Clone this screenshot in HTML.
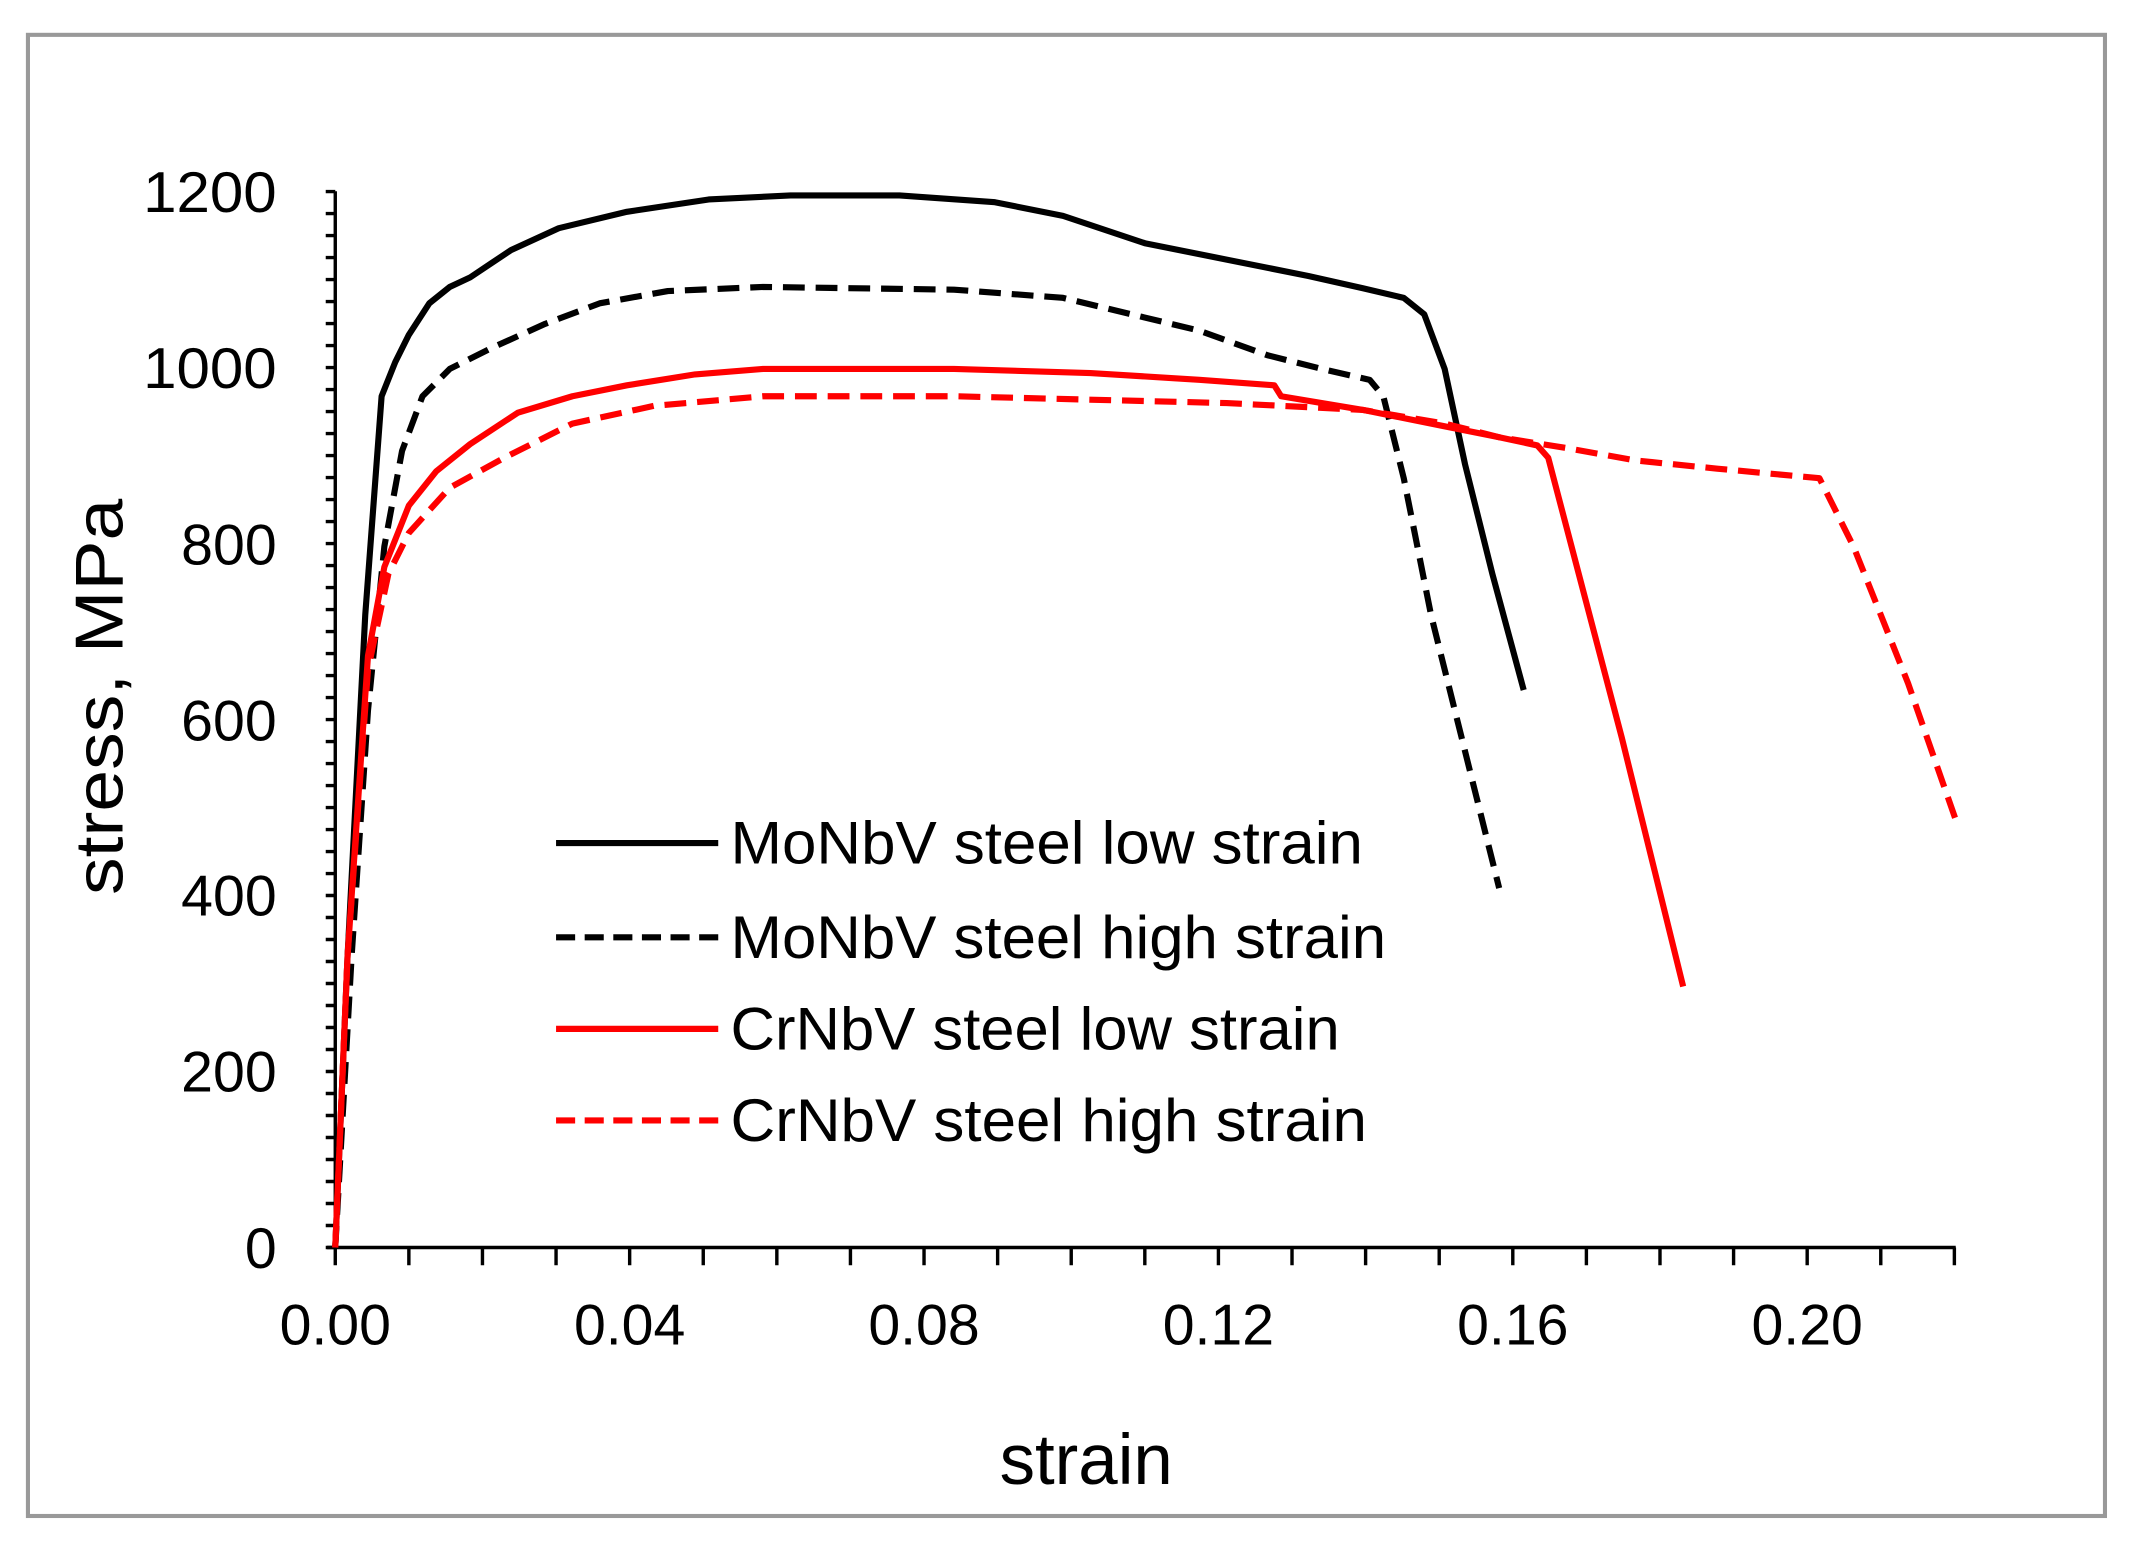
<!DOCTYPE html>
<html><head><meta charset="utf-8"><style>html,body{margin:0;padding:0;background:#fff}svg{display:block}</style></head>
<body>
<svg width="2137" height="1544" viewBox="0 0 1568 1130" preserveAspectRatio="none" xmlns="http://www.w3.org/2000/svg" font-family="'Liberation Sans', sans-serif">
<rect x="0" y="0" width="1568" height="1130" fill="#fff"/>
<rect x="20.5" y="25.5" width="1524" height="1084" fill="none" stroke="#999" stroke-width="3"/>
<g stroke="#000" stroke-width="2.5" fill="none">
<line x1="246" y1="140" x2="246" y2="913"/>
<line x1="240" y1="913" x2="1435" y2="913"/>
<path d="M239 913H246M239 896.9H246M239 880.8H246M239 864.7H246M239 848.6H246M239 832.5H246M239 816.4H246M239 800.3H246M239 784.2H246M239 768.1H246M239 752H246M239 735.9H246M239 719.8H246M239 703.7H246M239 687.6H246M239 671.5H246M239 655.4H246M239 639.3H246M239 623.2H246M239 607.1H246M239 591H246M239 574.9H246M239 558.8H246M239 542.7H246M239 526.6H246M239 510.5H246M239 494.4H246M239 478.3H246M239 462.2H246M239 446.1H246M239 430H246M239 413.9H246M239 397.8H246M239 381.7H246M239 365.6H246M239 349.5H246M239 333.4H246M239 317.3H246M239 301.2H246M239 285.1H246M239 269H246M239 252.9H246M239 236.8H246M239 220.7H246M239 204.6H246M239 188.5H246M239 172.4H246M239 156.3H246M239 140.2H246"/>
<path d="M246 913V926M300 913V926M354 913V926M408 913V926M462 913V926M516 913V926M570 913V926M624 913V926M678 913V926M732 913V926M786 913V926M840 913V926M894 913V926M948 913V926M1002 913V926M1056 913V926M1110 913V926M1164 913V926M1218 913V926M1272 913V926M1326 913V926M1380 913V926M1434 913V926"/>
</g>
<g font-size="42" fill="#000" text-anchor="end">
<text x="203" y="928">0</text><text x="203" y="799">200</text><text x="203" y="670">400</text>
<text x="203" y="542">600</text><text x="203" y="413">800</text><text x="203" y="284" textLength="98" lengthAdjust="spacingAndGlyphs">1000</text><text x="203" y="155" textLength="98" lengthAdjust="spacingAndGlyphs">1200</text>
</g>
<g font-size="42" fill="#000" text-anchor="middle">
<text x="246" y="984">0.00</text><text x="462" y="984">0.04</text><text x="678" y="984">0.08</text>
<text x="894" y="984">0.12</text><text x="1110" y="984">0.16</text><text x="1326" y="984">0.20</text>
</g>
<text x="797" y="1086" font-size="52" text-anchor="middle">strain</text>
<text transform="translate(90,510) rotate(-90)" font-size="50" text-anchor="middle" textLength="290" lengthAdjust="spacingAndGlyphs">stress, MPa</text>
<g fill="none" stroke-width="4.5" stroke-linejoin="round">
<polyline stroke="#000" points="246,913 255,700 268,450 280,290 290,265 300,245 315,222 330,210 345,203 360,193 375,183 410,167 460,155 520,146 580,143 660,143 730,148 780,158 840,178 900,190 960,202 1000,211 1030,218 1045,230 1060,270 1075,340 1095,420 1118,505"/>
<polyline stroke="#000" stroke-dasharray="16,8" points="246,913 258,700 270,520 282,400 295,330 310,290 330,270 360,255 400,237 440,222 490,213 560,210 700,212 780,218 830,230 880,242 930,260 970,270 1005,278 1015,290 1030,350 1050,450 1075,550 1100,650"/>
<polyline stroke="#f00" points="246,913 255,700 270,480 282,415 300,370 320,345 345,325 380,302 420,290 460,282 510,274 560,270 700,270 800,273 880,278 935,282 940,290 1000,300 1060,312 1100,320 1128,326 1136,335 1190,540 1235,722"/>
<polyline stroke="#f00" stroke-dasharray="16,8" points="246,913 255,700 270,490 285,420 300,390 330,357 370,335 420,310 480,297 560,290 700,290 900,295 1000,300 1060,310 1100,320 1150,328 1200,337 1260,343 1335,350 1360,400 1400,500 1435,600"/>
<line x1="408" y1="617" x2="527" y2="617" stroke="#000"/>
<line x1="408" y1="686" x2="527" y2="686" stroke="#000" stroke-dasharray="14,7"/>
<line x1="408" y1="753" x2="527" y2="753" stroke="#f00"/>
<line x1="408" y1="820" x2="527" y2="820" stroke="#f00" stroke-dasharray="14,7"/>
</g>
<g font-size="44" fill="#000" lengthAdjust="spacingAndGlyphs">
<text x="536" y="632" textLength="464" lengthAdjust="spacingAndGlyphs">MoNbV steel low strain</text>
<text x="536" y="701" textLength="481" lengthAdjust="spacingAndGlyphs">MoNbV steel high strain</text>
<text x="536" y="768" textLength="447" lengthAdjust="spacingAndGlyphs">CrNbV steel low strain</text>
<text x="536" y="835" textLength="467" lengthAdjust="spacingAndGlyphs">CrNbV steel high strain</text>
</g>
</svg>
</body></html>
